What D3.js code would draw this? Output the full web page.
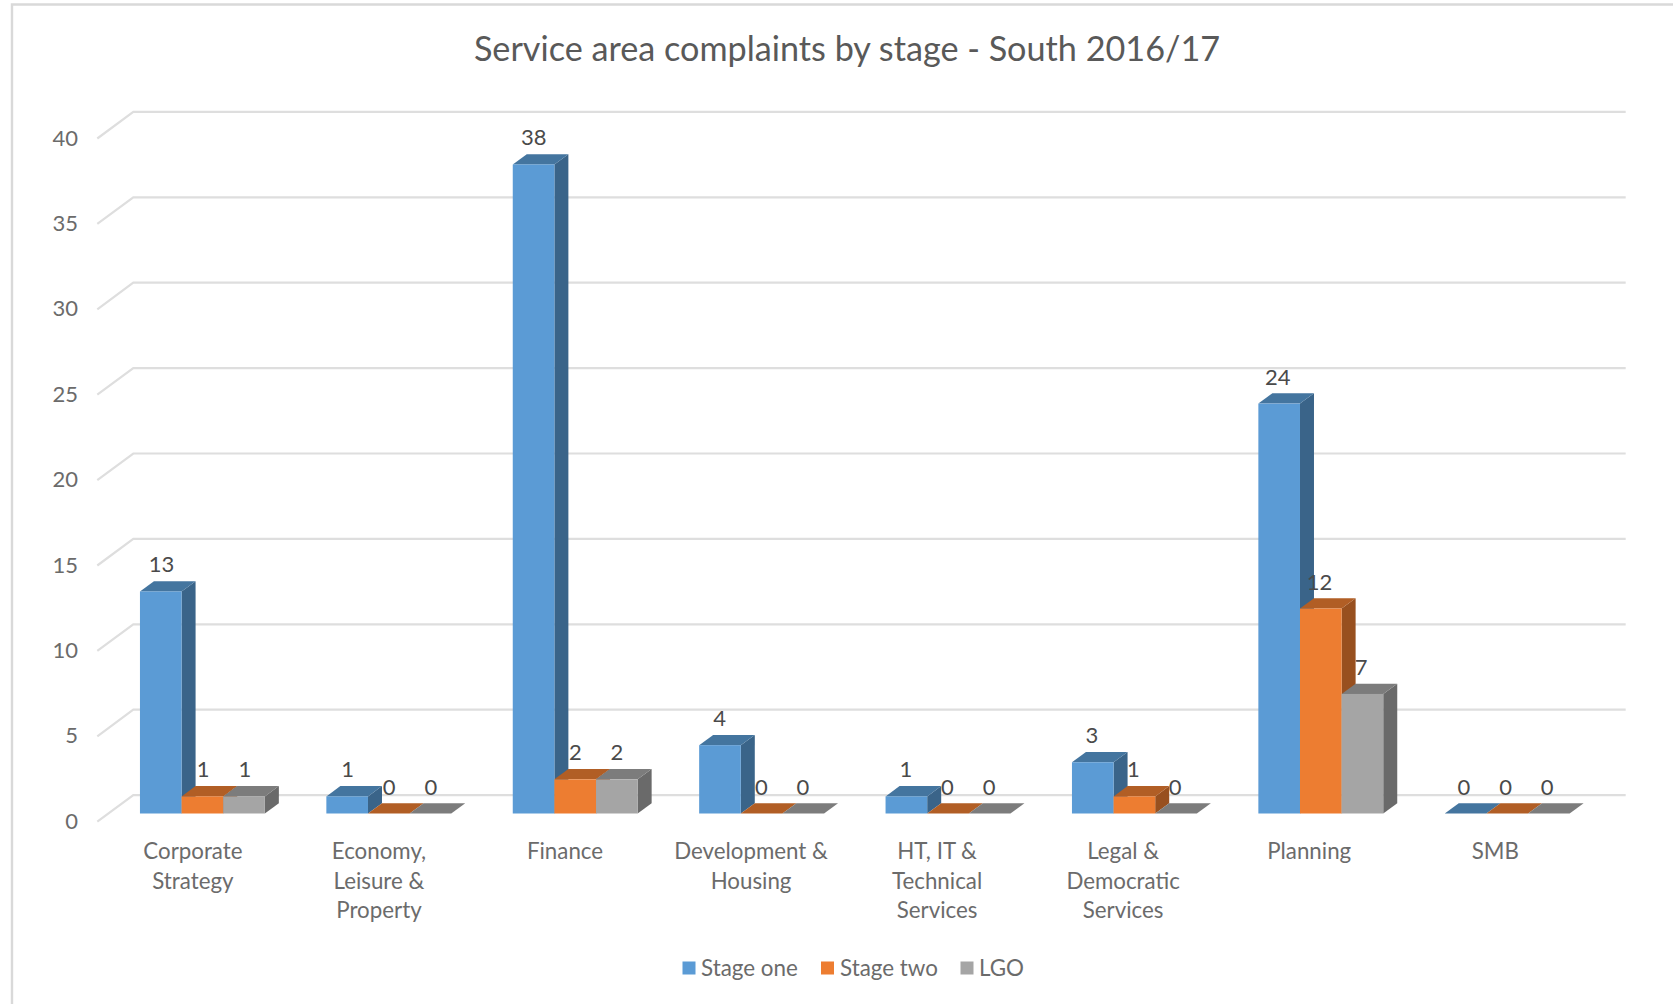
<!DOCTYPE html>
<html>
<head>
<meta charset="utf-8">
<script src="https://cdnjs.cloudflare.com/ajax/libs/d3/7.8.5/d3.min.js"></script>
<style>
  html, body { margin: 0; padding: 0; background: #fff; overflow: hidden; }
  text { font-family: Lato, "Open Sans", sans-serif; }
</style>
</head>
<body>
<svg id="chart" width="1673" height="1004"></svg>
<script>
// Complaint counts per service area, one list per stage
const categories = [
  ["Corporate", "Strategy"],
  ["Economy,", "Leisure &", "Property"],
  ["Finance"],
  ["Development &", "Housing"],
  ["HT, IT &", "Technical", "Services"],
  ["Legal &", "Democratic", "Services"],
  ["Planning"],
  ["SMB"]
];
const stageOne = [13, 1, 38, 4, 1, 3, 24, 0];
const stageTwo = [1, 0, 2, 0, 0, 1, 12, 0];
const lgo = [1, 0, 2, 0, 0, 0, 7, 0];
const seriesNames = ["Stage one", "Stage two", "LGO"];
const seriesValues = [stageOne, stageTwo, lgo];
const yTicks = [0, 5, 10, 15, 20, 25, 30, 35, 40];
const chartTitle = "Service area complaints by stage - South 2016/17";

const palette = {
  "Stage one": { front: "#5b9bd5", top: "#44759f", side: "#3a6489" },
  "Stage two": { front: "#ed7d31", top: "#b15e25", side: "#98501f" },
  "LGO":       { front: "#a5a5a5", top: "#7c7c7c", side: "#6a6a6a" }
};

const svg = d3.select("#chart");

// Bar fronts stand on this baseline; the wall and the axis sit at fixed depth offsets from it
const baseY = 813.5;
const unit = 17.08;
const y = d3.scaleLinear().domain([0, 40]).range([baseY, baseY - 40 * unit]);

const x = d3.scaleBand()
  .domain(d3.range(categories.length))
  .range([109.2, 1600.4])
  .paddingInner(0.33)
  .paddingOuter(0.165);
const xInner = d3.scaleBand().domain(seriesNames).range([0, x.bandwidth()]);

// Oblique projection: bar depth, wall offset and axis offset
const barDepth = { dx: 14, dy: -10.3 };
const wallY = v => y(v) - 18.4;
const wallLeft = 133.3, wallRight = 1625.7;
const axisX = 97.3, axisDrop = 8.2;

// Outer frame: the right and bottom edges fall outside the view
svg.append("path")
  .attr("d", d3.line()([[12, 1004], [12, 4.5], [1673, 4.5]]))
  .attr("fill", "none").attr("stroke", "#d9d9d9").attr("stroke-width", 2.4);

// Back wall gridlines with their slanted run towards the value axis
svg.append("g").selectAll("path").data(yTicks).join("path")
  .attr("d", d => d3.line()([
    [axisX, y(d) + axisDrop],
    [wallLeft, wallY(d)],
    [wallRight, wallY(d)]
  ]))
  .attr("fill", "none").attr("stroke", "#dedede").attr("stroke-width", 2.2);

// Value axis labels
svg.append("g").selectAll("text").data(yTicks).join("text")
  .attr("x", 78)
  .attr("y", d => y(d) + axisDrop + 7)
  .attr("text-anchor", "end")
  .attr("font-size", 22)
  .attr("fill", "#6b6b6b")
  .text(d => d);

// Flatten to one record per bar, left to right so that later bars overlap earlier sides
const bars = [];
categories.forEach((c, i) => seriesNames.forEach((s, k) => {
  bars.push({ i, s, value: seriesValues[k][i] });
}));

const barG = svg.append("g").selectAll("g").data(bars).join("g");

barG.append("path") // side face
  .attr("fill", d => palette[d.s].side)
  .attr("d", d => {
    const r = x(d.i) + xInner(d.s) + xInner.bandwidth();
    return d3.line()([[r, y(d.value)], [r + barDepth.dx, y(d.value) + barDepth.dy],
      [r + barDepth.dx, y(0) + barDepth.dy], [r, y(0)]]) + "Z";
  });

barG.append("path") // top face
  .attr("fill", d => palette[d.s].top)
  .attr("d", d => {
    const l = x(d.i) + xInner(d.s), r = l + xInner.bandwidth(), t = y(d.value);
    return d3.line()([[l, t], [l + barDepth.dx, t + barDepth.dy],
      [r + barDepth.dx, t + barDepth.dy], [r, t]]) + "Z";
  });

barG.append("rect") // front face
  .attr("x", d => x(d.i) + xInner(d.s))
  .attr("y", d => y(d.value))
  .attr("width", xInner.bandwidth())
  .attr("height", d => y(0) - y(d.value))
  .attr("fill", d => palette[d.s].front);

// Data labels are drawn after all bars so they stay on top
svg.append("g").selectAll("text").data(bars).join("text")
  .attr("x", d => x(d.i) + xInner(d.s) + xInner.bandwidth() / 2 + 0.8 - d.i * 0.35)
  .attr("y", d => y(d.value) - 19)
  .attr("text-anchor", "middle")
  .attr("font-size", 22)
  .attr("fill", "#4a4a4a")
  .text(d => d.value);

// Category labels, one tspan per wrapped line
const catText = svg.append("g").selectAll("text").data(categories).join("text")
  .attr("text-anchor", "middle")
  .attr("font-size", 22.3)
  .attr("fill", "#6b6b6b")
  .attr("transform", (d, i) => `translate(${x(i) + x.bandwidth() / 2 - 9.5 - i * 0.35},859)`);
catText.selectAll("tspan").data(d => d).join("tspan")
  .attr("x", 0)
  .attr("dy", (d, i) => i ? 29.5 : 0)
  .text(d => d);

// Chart title
svg.append("text")
  .attr("x", 847).attr("y", 60.5)
  .attr("text-anchor", "middle")
  .attr("font-size", 34.2)
  .attr("fill", "#595959")
  .text(chartTitle);

// Legend
const legendItems = [
  { name: "Stage one", sx: 682.5, tx: 701 },
  { name: "Stage two", sx: 821, tx: 840 },
  { name: "LGO", sx: 960.5, tx: 979 }
];
const legend = svg.append("g").selectAll("g").data(legendItems).join("g");
legend.append("rect")
  .attr("x", d => d.sx).attr("y", 961.5)
  .attr("width", 13).attr("height", 13)
  .attr("fill", d => palette[d.name].front);
legend.append("text")
  .attr("x", d => d.tx).attr("y", 976)
  .attr("font-size", 22.4)
  .attr("fill", "#6b6b6b")
  .text(d => d.name);
</script>
</body>
</html>
